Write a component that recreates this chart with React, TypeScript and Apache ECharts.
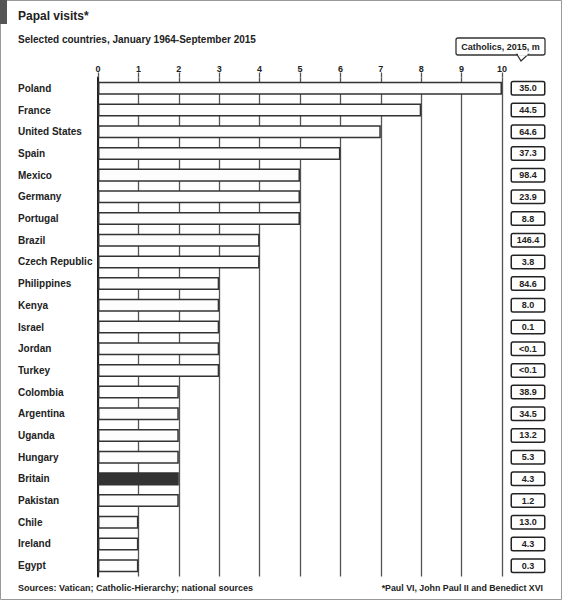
import React, { useEffect, useRef } from "react";
import * as echarts from "echarts";

const countries = [
  "Poland", "France", "United States", "Spain", "Mexico", "Germany", "Portugal",
  "Brazil", "Czech Republic", "Philippines", "Kenya", "Israel", "Jordan", "Turkey",
  "Colombia", "Argentina", "Uganda", "Hungary", "Britain", "Pakistan", "Chile",
  "Ireland", "Egypt",
];
const visits = [10, 8, 7, 6, 5, 5, 5, 4, 4, 3, 3, 3, 3, 3, 2, 2, 2, 2, 2, 2, 1, 1, 1];
const catholics = [
  "35.0", "44.5", "64.6", "37.3", "98.4", "23.9", "8.8", "146.4", "3.8", "84.6",
  "8.0", "0.1", "<0.1", "<0.1", "38.9", "34.5", "13.2", "5.3", "4.3", "1.2",
  "13.0", "4.3", "0.3",
];
const highlighted = "Britain";
const xTicks = [0, 10];

const FONT = "Liberation Sans, Arial, sans-serif";

export default function App() {
  const ref = useRef<HTMLDivElement>(null);
  useEffect(() => {
    if (!ref.current) return;
    const chart = echarts.init(ref.current, null, { renderer: "svg" });
    chart.setOption({
      animation: false,
      textStyle: { fontFamily: FONT },
      grid: { left: 98, right: 60, top: 77.5, bottom: 23.5 },
      xAxis: {
        type: "value",
        position: "top",
        min: xTicks[0],
        max: xTicks[1],
        interval: 1,
        axisLine: { show: false },
        axisTick: { show: true, length: 5, lineStyle: { color: "#555", width: 1.3 } },
        axisLabel: { margin: 4, fontSize: 9, fontWeight: "bold", color: "#222", fontFamily: FONT },
        splitLine: { show: true, lineStyle: { color: "#555", width: 1.3 } },
      },
      yAxis: [
        {
          type: "category",
          data: countries,
          inverse: true,
          axisLine: { show: true, lineStyle: { color: "#222", width: 2 } },
          axisTick: { show: false },
          axisLabel: {
            align: "left",
            margin: 80,
            fontSize: 10,
            fontWeight: "bold",
            color: "#222",
            fontFamily: FONT,
          },
        },
        {
          type: "category",
          data: catholics,
          inverse: true,
          position: "right",
          axisLine: { show: false },
          axisTick: { show: false },
          axisLabel: {
            align: "center",
            margin: 26,
            width: 26,
            fontSize: 9,
            fontWeight: "bold",
            color: "#222",
            fontFamily: FONT,
            borderColor: "#222",
            borderWidth: 1.5,
            borderRadius: 1,
            padding: [2, 3, 1, 3],
            backgroundColor: "#fff",
          },
        },
      ],
      series: [
        {
          type: "bar",
          yAxisIndex: 0,
          barCategoryGap: "40%",
          data: visits.map((v, i) => ({
            value: v,
            itemStyle: {
              color: countries[i] === highlighted ? "#333" : "#fdfdfd",
              borderColor: "#333",
              borderWidth: 1.5,
            },
          })),
        },
      ],
      graphic: [
        {
          type: "rect",
          shape: { x: 0.5, y: 0.5, width: 561, height: 599 },
          style: { fill: "none", stroke: "#999", lineWidth: 1 },
          silent: true,
        },
        { type: "rect", shape: { x: 0, y: 0, width: 7, height: 24 }, style: { fill: "#555" } },
        {
          type: "text",
          x: 18,
          y: 10,
          style: { text: "Papal visits*", font: "bold 12px " + FONT, fill: "#222" },
        },
        {
          type: "text",
          x: 18,
          y: 34,
          style: {
            text: "Selected countries, January 1964-September 2015",
            font: "bold 10px " + FONT,
            fill: "#222",
          },
        },
        {
          type: "rect",
          shape: { x: 456, y: 38, width: 89, height: 17, r: 2 },
          style: { fill: "#fff", stroke: "#333", lineWidth: 1.3 },
        },
        {
          type: "polygon",
          shape: { points: [[517, 54.5], [528, 54.5], [521, 61]] },
          style: { fill: "#fff", stroke: "#333", lineWidth: 1.3 },
        },
        {
          type: "rect",
          shape: { x: 518, y: 53, width: 9.5, height: 2.5 },
          style: { fill: "#fff" },
        },
        {
          type: "text",
          x: 500.5,
          y: 46.5,
          style: {
            text: "Catholics, 2015, m",
            font: "bold 9px " + FONT,
            fill: "#222",
            align: "center",
            verticalAlign: "middle",
          },
        },
        {
          type: "text",
          x: 18,
          y: 583,
          style: {
            text: "Sources: Vatican; Catholic-Hierarchy; national sources",
            font: "bold 9px " + FONT,
            fill: "#222",
          },
        },
        {
          type: "text",
          x: 543,
          y: 583,
          style: {
            text: "*Paul VI, John Paul II and Benedict XVI",
            font: "bold 8.8px " + FONT,
            fill: "#222",
            align: "right",
          },
        },
      ],
    });
    return () => chart.dispose();
  }, []);
  return (
    <div
      ref={ref}
      style={{ position: "fixed", left: 0, top: 0, width: 562, height: 600, background: "#fff" }}
    />
  );
}
